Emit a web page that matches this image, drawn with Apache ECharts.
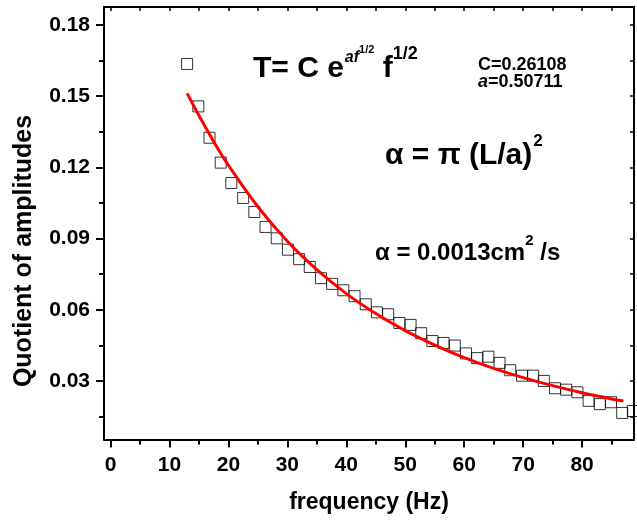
<!DOCTYPE html>
<html>
<head>
<meta charset="utf-8">
<script src="https://cdn.jsdelivr.net/npm/echarts@6/dist/echarts.min.js"></script>
<style>
html,body{margin:0;padding:0;background:#fff;}
#c{width:637px;height:521px;}
</style>
</head>
<body>
<div id="c"></div>
<script>
// ---- data ----
const freq = [13.0, 14.9, 16.8, 18.7, 20.5, 22.5, 24.4, 26.3, 28.2, 30.1, 32.0, 33.8, 35.7, 37.6, 39.5, 41.4, 43.3, 45.2, 47.1, 49.0, 50.9, 52.7, 54.6, 56.5, 58.4, 60.3, 62.2, 64.1, 66.0, 67.8, 69.8, 71.7, 73.5, 75.4, 77.3, 79.2, 81.1, 83.0, 84.9, 86.8, 88.6];
const quotient = [0.1636, 0.1457, 0.1325, 0.1220, 0.1134, 0.1071, 0.1012, 0.0949, 0.0901, 0.0853, 0.0813, 0.0780, 0.0733, 0.0709, 0.0682, 0.0657, 0.0623, 0.0589, 0.0581, 0.0544, 0.0536, 0.0501, 0.0468, 0.0460, 0.0449, 0.0416, 0.0396, 0.0402, 0.0376, 0.0345, 0.0322, 0.0322, 0.0300, 0.0269, 0.0263, 0.0252, 0.0216, 0.0202, 0.0210, 0.0165, 0.0173];
const fitFreq = [13, 15, 17.5, 20, 25, 30, 35, 40, 45, 50, 55, 60, 65, 70, 75, 80, 85, 87];
const fitValue = [0.1512, 0.1419, 0.1309, 0.1209, 0.1034, 0.0889, 0.0769, 0.0668, 0.0584, 0.0512, 0.0451, 0.0398, 0.0353, 0.0314, 0.0280, 0.0250, 0.0224, 0.0215];
const xMajorTicks = [0, 10, 20, 30, 40, 50, 60, 70, 80];
const xMinorTicks = [5, 15, 25, 35, 45, 55, 65, 75, 85];
const yMajorTicks = [0.03, 0.06, 0.09, 0.12, 0.15, 0.18];
const yMinorTicks = [0.015, 0.045, 0.075, 0.105, 0.135, 0.165];
const xTitle = 'frequency (Hz)';
const yTitle = 'Quotient of amplitudes';

// ---- layout / style ----
const FONT = '"Liberation Sans", Arial, sans-serif';
const X_MIN = -1.1, X_MAX = 88.8;
const Y_MIN = 0.0053, Y_MAX = 0.1876;
const allX = xMajorTicks.concat(xMinorTicks).sort((a,b)=>a-b);
const allY = yMajorTicks.concat(yMinorTicks).sort((a,b)=>a-b);

const chart = echarts.init(document.getElementById('c'), null, {renderer: 'canvas'});

const cv = document.createElement('canvas').getContext('2d');
function seq(x0, base, parts) {
  const els = [];
  let x = x0;
  parts.forEach(p => {
    const font = (p.italic ? 'italic ' : '') + 'bold ' + p.size + 'px ' + FONT;
    cv.font = font;
    const w = cv.measureText(p.t).width;
    const b = base - (p.rise || 0);
    els.push({
      type: 'text', z: 100,
      x: x + (p.dx || 0), y: b - 0.35 * p.size,
      style: { text: p.t, font: font, fill: '#000', align: 'left', verticalAlign: 'middle', textAlign: 'left', textVerticalAlign: 'middle' }
    });
    x += w + (p.dx || 0);
  });
  return els;
}

const graphics = [].concat(
  seq(253, 79, [
    {t: 'T= C e', size: 30},
    {t: 'af', size: 16, italic: true, rise: 16, dx: 1},
    {t: '1/2', size: 11, rise: 25},
    {t: ' f', size: 30},
    {t: '1/2', size: 18, rise: 19}
  ]),
  seq(478, 71, [{t: 'C=0.26108', size: 18}]),
  seq(478, 88, [{t: 'a', size: 18, italic: true}, {t: '=0.50711', size: 18}]),
  seq(385, 166, [{t: 'α = π (L/a)', size: 30}, {t: '2', size: 17, rise: 19, dx: 1}]),
  seq(375, 262, [{t: 'α = 0.0013cm', size: 24}, {t: '2', size: 15, rise: 16}, {t: ' /s', size: 24}]),
  [{
    type: 'text', z: 100, x: 24, y: 251, rotation: Math.PI / 2,
    style: {text: yTitle, font: 'bold 25px ' + FONT, fill: '#000', align: 'center', verticalAlign: 'middle', textAlign: 'center', textVerticalAlign: 'middle'}
  }]
);

const labelStyle = {color: '#000', fontFamily: FONT, fontWeight: 'bold', fontSize: 21};
const lineStyle = {color: '#000', width: 2};

const option = {
  backgroundColor: '#fff',
  animation: false,
  grid: {left: 104, right: 3, top: 7, bottom: 81.5, containLabel: false},
  xAxis: [
    {
      type: 'value', position: 'bottom', min: X_MIN, max: X_MAX,
      axisLine: {show: true, onZero: false, lineStyle: lineStyle},
      axisTick: {show: true, inside: false, length: 8, lineStyle: {color: '#000', width: 2}, customValues: xMajorTicks},
      axisLabel: {show: true, customValues: xMajorTicks, margin: 15, ...labelStyle},
      splitLine: {show: false},
      name: xTitle, nameLocation: 'middle', nameGap: 52,
      nameTextStyle: {color: '#000', fontFamily: FONT, fontWeight: 'bold', fontSize: 23}
    },
    {
      type: 'value', position: 'bottom', min: X_MIN, max: X_MAX,
      axisLine: {show: false, onZero: false},
      axisTick: {show: true, inside: false, length: 5, lineStyle: {color: '#000', width: 2}, customValues: xMinorTicks},
      axisLabel: {show: false},
      splitLine: {show: false}
    },
    {
      type: 'value', position: 'top', min: X_MIN, max: X_MAX,
      axisLine: {show: true, onZero: false, lineStyle: lineStyle},
      axisTick: {show: true, inside: true, length: 4, lineStyle: {color: '#000', width: 1.5}, customValues: allX},
      axisLabel: {show: false},
      splitLine: {show: false}
    }
  ],
  yAxis: [
    {
      type: 'value', position: 'left', min: Y_MIN, max: Y_MAX,
      axisLine: {show: true, onZero: false, lineStyle: lineStyle},
      axisTick: {show: true, inside: false, length: 8, lineStyle: {color: '#000', width: 2}, customValues: yMajorTicks},
      axisLabel: {show: true, customValues: yMajorTicks, margin: 14, formatter: v => Number(v).toFixed(2), ...labelStyle},
      splitLine: {show: false}
    },
    {
      type: 'value', position: 'left', min: Y_MIN, max: Y_MAX,
      axisLine: {show: false, onZero: false},
      axisTick: {show: true, inside: false, length: 5, lineStyle: {color: '#000', width: 2}, customValues: yMinorTicks},
      axisLabel: {show: false},
      splitLine: {show: false}
    },
    {
      type: 'value', position: 'right', min: Y_MIN, max: Y_MAX,
      axisLine: {show: true, onZero: false, lineStyle: lineStyle},
      axisTick: {show: true, inside: true, length: 4, lineStyle: {color: '#000', width: 1.5}, customValues: allY},
      axisLabel: {show: false},
      splitLine: {show: false}
    }
  ],
  series: [
    {
      type: 'scatter', xAxisIndex: 0, yAxisIndex: 0,
      data: freq.map((f, i) => [f, quotient[i]]),
      symbol: 'rect', symbolSize: 11,
      itemStyle: {color: 'rgba(255,255,255,0)', borderColor: '#000', borderWidth: 1},
      z: 2
    },
    {
      type: 'line', xAxisIndex: 0, yAxisIndex: 0,
      data: fitFreq.map((f, i) => [f, fitValue[i]]),
      smooth: 0.4, showSymbol: false, symbol: 'none',
      lineStyle: {color: '#ff0000', width: 3},
      z: 3
    }
  ],
  graphic: graphics
};
chart.setOption(option);
</script>
</body>
</html>
